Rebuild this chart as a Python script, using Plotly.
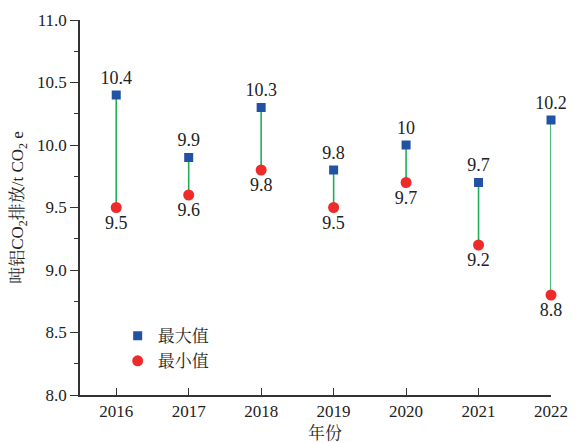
import plotly.graph_objects as go

years = [2016, 2017, 2018, 2019, 2020, 2021, 2022]
max_vals = [10.4, 9.9, 10.3, 9.8, 10.0, 9.7, 10.2]
min_vals = [9.5, 9.6, 9.8, 9.5, 9.7, 9.2, 8.8]
max_labels = ["10.4", "9.9", "10.3", "9.8", "10", "9.7", "10.2"]
min_labels = ["9.5", "9.6", "9.8", "9.5", "9.7", "9.2", "8.8"]

FONT = "'Liberation Serif', 'Noto Serif CJK SC', 'Noto Sans CJK SC', serif"

lx, ly = [], []
for x, a, b in zip(years, max_vals, min_vals):
    lx += [x, x, None]
    ly += [a, b, None]

fig = go.Figure()
fig.add_trace(go.Scatter(x=lx, y=ly, mode="lines",
                         line=dict(color="#1fad5a", width=1.6),
                         showlegend=False, hoverinfo="skip", cliponaxis=False))
fig.add_trace(go.Scatter(x=years, y=max_vals, mode="markers+text", name="最大值",
                         marker=dict(symbol="square", size=9, color="#2152a3"),
                         text=max_labels, textposition="top center",
                         textfont=dict(family=FONT, size=18, color="#222"), cliponaxis=False))
fig.add_trace(go.Scatter(x=years, y=min_vals, mode="markers+text", name="最小值",
                         marker=dict(symbol="circle", size=11, color="#ee2a2a"),
                         text=min_labels, textposition="bottom center",
                         textfont=dict(family=FONT, size=18, color="#222"), cliponaxis=False))

# page body has an 8px default margin, so the figure is made 8px smaller
fig.update_layout(
    width=573, height=435,
    margin=dict(l=72, r=30, t=12, b=48),
    plot_bgcolor="white", paper_bgcolor="white",
    font=dict(family=FONT, size=17, color="#222"),
    legend=dict(x=0.08, y=0.205, xanchor="left", yanchor="top",
                bgcolor="rgba(0,0,0,0)", font=dict(family=FONT, size=17),
                tracegroupgap=0, itemwidth=30),
    annotations=[dict(text="年份", xref="paper", yref="paper", x=0.52, y=-0.1,
                      xanchor="center", yanchor="middle", showarrow=False,
                      font=dict(family=FONT, size=17, color="#222"))],
)
fig.update_xaxes(
    range=[2015.5, 2022], tickmode="array", tickvals=years,
    ticktext=[str(y) for y in years], automargin=False,
    tickfont=dict(family=FONT, size=17),
    showline=True, linecolor="#333", linewidth=1.5,
    ticks="inside", ticklen=7, tickwidth=1.3, tickcolor="#333",
    showgrid=False, zeroline=False,
)
fig.update_yaxes(
    range=[8.0, 11.0], tickmode="linear", tick0=8.0, dtick=0.5,
    tickformat=".1f", automargin=False,
    tickfont=dict(family=FONT, size=17),
    showline=True, linecolor="#333", linewidth=1.5,
    ticks="outside", ticklen=8, tickwidth=1.3, tickcolor="#333",
    minor=dict(ticks="outside", ticklen=4, dtick=0.25, tickcolor="#333", tickwidth=1.1),
    showgrid=False, zeroline=False,
    title=dict(text="吨铝CO<sub>2</sub>排放/t CO<sub>2</sub> e", font=dict(family=FONT, size=17), standoff=12),
)

fig.write_html("out.html")
